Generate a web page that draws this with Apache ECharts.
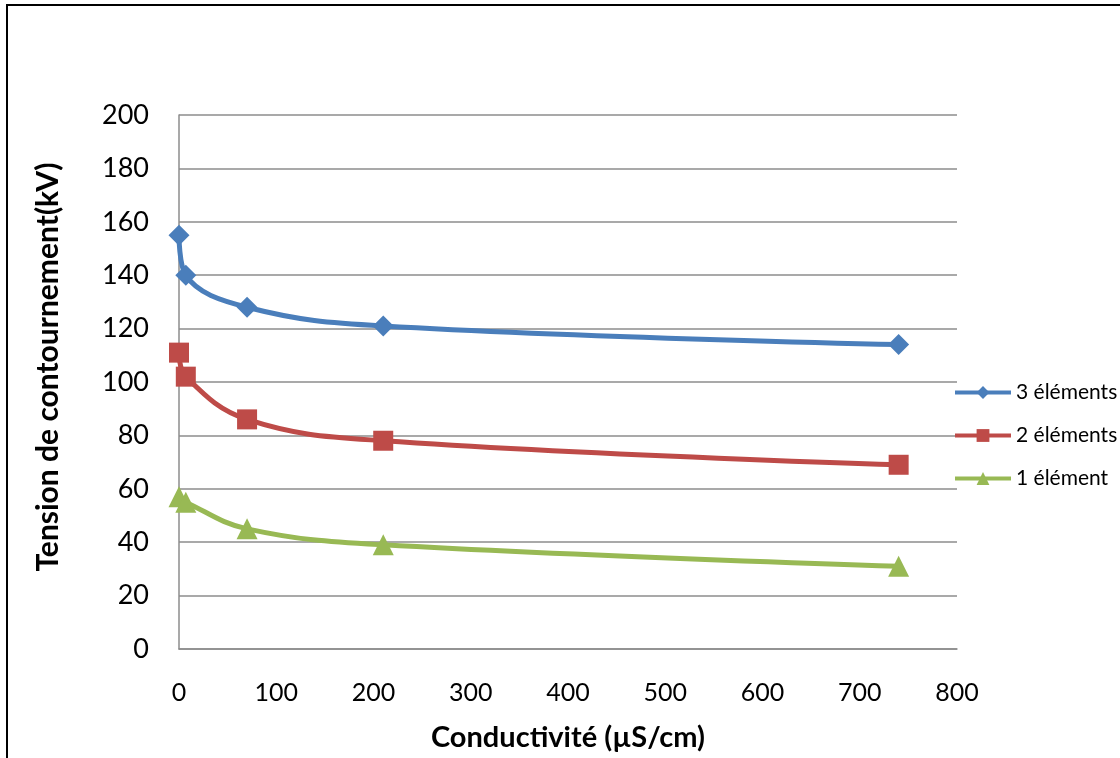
<!DOCTYPE html>
<html>
<head>
<meta charset="utf-8">
<script src="https://cdn.jsdelivr.net/npm/echarts@6/dist/echarts.min.js"></script>
<style>
  html, body { margin: 0; padding: 0; background: #fff; }
  #chart { width: 1120px; height: 758px; }
</style>
</head>
<body>
<div id="chart"></div>
<script>
// Conductivity (µS/cm) of the pollution layer
const conductivity = [0, 7, 70, 210, 740];

// Flashover voltage (kV) per string length
const seriesNames = ['3 éléments', '2 éléments', '1 élément'];
const troisElements = [155, 140, 128, 121, 114];
const deuxElements = [111, 102, 86, 78, 69];
const unElement = [57, 55, 45, 39, 31];

const xTicks = [0, 100, 200, 300, 400, 500, 600, 700, 800];
const yTicks = [0, 20, 40, 60, 80, 100, 120, 140, 160, 180, 200];

const FONT = 'Lato, "Open Sans", sans-serif';

function pairs(ys) {
  return conductivity.map((x, i) => [x, ys[i]]);
}

const styles = [
  { color: '#4A7EBB', symbol: 'diamond', size: 21 },
  { color: '#BE4B48', symbol: 'rect', size: 20 },
  { color: '#98B954', symbol: 'triangle', size: 21 }
];
const values = [troisElements, deuxElements, unElement];

const chart = echarts.init(document.getElementById('chart'), null, { renderer: 'canvas' });

chart.setOption({
  backgroundColor: '#ffffff',
  animation: false,
  graphic: [{
    type: 'rect',
    shape: { x: 7, y: 5, width: 1300, height: 900 },
    style: { fill: 'none', stroke: '#000', lineWidth: 2 },
    silent: true
  }],
  grid: { left: 179, right: 163, top: 115, bottom: 109 },
  legend: {
    orient: 'vertical',
    left: 948,
    top: 377,
    itemWidth: 56,
    itemHeight: 16,
    itemGap: 22,
    lineStyle: { width: 4 },
    textStyle: { fontFamily: FONT, fontSize: 21, color: '#000' },
    data: seriesNames
  },
  xAxis: {
    type: 'value',
    min: xTicks[0],
    max: xTicks[xTicks.length - 1],
    interval: 100,
    name: 'Conductivité (µS/cm)',
    nameLocation: 'middle',
    nameGap: 74,
    nameTextStyle: { fontFamily: FONT, fontSize: 29, fontWeight: 'bold', color: '#000' },
    axisLine: { show: true, lineStyle: { color: '#8c8c8c', width: 1.5 } },
    axisTick: { show: false },
    splitLine: { show: false },
    axisLabel: { fontFamily: FONT, fontSize: 25, color: '#000', margin: 31 }
  },
  yAxis: {
    type: 'value',
    min: yTicks[0],
    max: yTicks[yTicks.length - 1],
    interval: 20,
    name: 'Tension de contournement(kV)',
    nameLocation: 'middle',
    nameGap: 116,
    nameTextStyle: {
      fontFamily: FONT, fontSize: 30, fontWeight: 'bold', color: '#000',
      padding: [0, 0, 0, 30]
    },
    axisLine: { show: true, lineStyle: { color: '#8c8c8c', width: 1.5 } },
    axisTick: { show: false },
    splitLine: { show: true, lineStyle: { color: '#8c8c8c', width: 1.5 } },
    axisLabel: { fontFamily: FONT, fontSize: 27, color: '#000', margin: 30 }
  },
  series: seriesNames.map((name, i) => ({
    name: name,
    type: 'line',
    data: pairs(values[i]),
    smooth: 0.4,
    symbol: styles[i].symbol,
    symbolSize: styles[i].size,
    itemStyle: { color: styles[i].color },
    lineStyle: { color: styles[i].color, width: 5 },
    z: 3 + (2 - i)
  }))
});
</script>
</body>
</html>
